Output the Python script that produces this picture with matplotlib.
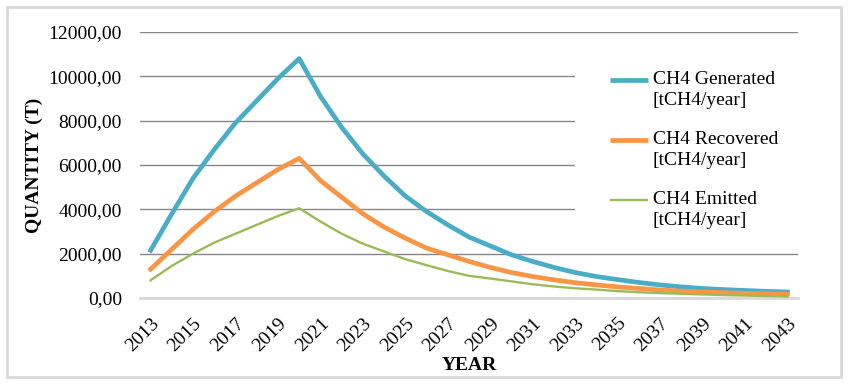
import matplotlib
matplotlib.use("Agg")
import matplotlib.pyplot as plt
from matplotlib.patches import Rectangle
from matplotlib.lines import Line2D
from matplotlib.ticker import FuncFormatter, MultipleLocator

# Datos
years = list(range(2013, 2044))
generated = [2150, 3800, 5400, 6700, 7900, 8900, 9900, 10800, 9100, 7700,
             6500, 5500, 4600, 3900, 3300, 2750, 2350, 1950, 1650, 1380,
             1150, 970, 830, 700, 590, 500, 430, 380, 340, 300, 270]
recovered = [1300, 2200, 3100, 3900, 4600, 5200, 5800, 6300, 5300, 4550,
             3800, 3200, 2700, 2250, 1950, 1650, 1380, 1150, 970, 820,
             690, 590, 500, 430, 360, 310, 270, 240, 210, 190, 170]
emitted = [800, 1450, 2000, 2500, 2900, 3300, 3700, 4050, 3450, 2900,
           2450, 2100, 1750, 1480, 1220, 1000, 880, 750, 620, 520,
           440, 380, 310, 260, 220, 190, 160, 130, 110, 90, 70]
labels = ["CH4 Generated\n[tCH4/year]", "CH4 Recovered\n[tCH4/year]",
          "CH4 Emitted\n[tCH4/year]"]
colors = ['#4BACC6', '#F79646', '#9BBB59']
widths = [3.4, 3.4, 1.7]

plt.rcParams['font.family'] = ['Liberation Serif', 'DejaVu Serif']

fig = plt.figure(figsize=(8.48, 3.84), dpi=100)
W, H = 848, 384
ax = fig.add_axes([140 / W, 1 - 298 / H, 658 / W, 266 / H])

# Borde exterior gris claro
fig.patches.append(Rectangle((7 / W, 7 / H), 834 / W, 370 / H, transform=fig.transFigure,
                             facecolor='none', edgecolor='#D9D9D9', linewidth=2))

for serie, c, lw in zip([generated, recovered, emitted], colors, widths):
    ax.plot(years, serie, color=c, linewidth=lw, zorder=4)

ax.set_xlim(2012.5, 2043.5)
ax.set_ylim(0, 12000)
ax.yaxis.set_major_locator(MultipleLocator(2000))
ax.yaxis.set_major_formatter(FuncFormatter(lambda v, p: f"{v:.2f}".replace('.', ',')))
ax.set_xticks(years[::2])
ax.tick_params(axis='both', length=0, labelsize=14)
ax.tick_params(axis='y', pad=13)
ax.tick_params(axis='x', pad=12)
for t in ax.get_xticklabels():
    t.set_rotation(45)
    t.set_ha('right')
    t.set_rotation_mode('anchor')

ax.grid(axis='y', color='#868686', linewidth=1, zorder=1)
for s in ['top', 'right', 'left']:
    ax.spines[s].set_visible(False)
ax.spines['bottom'].set_color('#D9D9D9')
ax.spines['bottom'].set_linewidth(2)

# Fondo blanco de la leyenda tapando la cuadrícula
ax.add_patch(Rectangle((0.661, 0.2), 0.4, 0.75, transform=ax.transAxes,
                       facecolor='white', edgecolor='none', zorder=2, clip_on=False))

ax.set_ylabel('QUANTITY (T)', fontsize=14, fontweight='bold', labelpad=4)
ax.set_xlabel('YEAR', fontsize=14, fontweight='bold', labelpad=2)

# Leyenda manual: la línea queda a la altura de la primera línea del texto
for i, (lab, c, lw) in enumerate(zip(labels, colors, widths)):
    yh = 80 + 60 * i
    fig.add_artist(Line2D([610 / W, 648 / W], [1 - yh / H, 1 - yh / H],
                          color=c, linewidth=lw, solid_capstyle='butt',
                          transform=fig.transFigure))
    fig.text(653 / W, 1 - (yh - 9) / H, lab, fontsize=14, va='top', ha='left',
             linespacing=1.28)

fig.savefig('out.png', dpi=100)
